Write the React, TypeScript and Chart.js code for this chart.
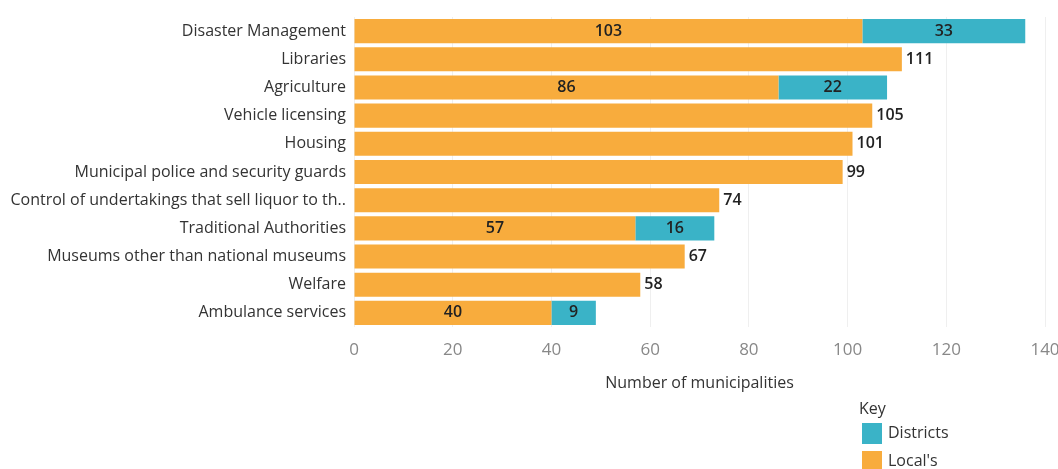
import React, { useEffect, useRef } from "react";
import { Chart, registerables } from "chart.js";

Chart.register(...registerables);

const categories = [
  "Disaster Management",
  "Libraries",
  "Agriculture",
  "Vehicle licensing",
  "Housing",
  "Municipal police and security guards",
  "Control of undertakings that sell liquor to th..",
  "Traditional Authorities",
  "Museums other than national museums",
  "Welfare",
  "Ambulance services",
];

const localsValues: (number | null)[] = [103, 111, 86, 105, 101, 99, 74, 57, 67, 58, 40];
const districtValues: (number | null)[] = [33, null, 22, null, null, null, null, 16, null, null, 9];

const xTicks = [0, 20, 40, 60, 80, 100, 120, 140];

const ORANGE = "#F8AC3D";
const TEAL = "#3AB3C7";
const FONT = "'Open Sans', 'Noto Sans', sans-serif";

const valueLabelPlugin = {
  id: "valueLabels",
  afterDatasetsDraw(chart: any) {
    const ctx = chart.ctx;
    ctx.save();
    ctx.font = `600 16px ${FONT}`;
    ctx.fillStyle = "#222";
    ctx.textBaseline = "middle";
    const localMeta = chart.getDatasetMeta(0);
    const distMeta = chart.getDatasetMeta(1);
    localMeta.data.forEach((el: any, i: number) => {
      const v = localsValues[i];
      if (v == null) return;
      const hasDist = districtValues[i] != null;
      if (hasDist) {
        ctx.textAlign = "center";
        ctx.fillText(String(v), (el.base + el.x) / 2, el.y);
      } else {
        ctx.textAlign = "left";
        ctx.fillText(String(v), el.x + 4, el.y);
      }
    });
    distMeta.data.forEach((el: any, i: number) => {
      const v = districtValues[i];
      if (v == null) return;
      ctx.textAlign = "center";
      ctx.fillText(String(v), (el.base + el.x) / 2, el.y);
    });
    ctx.restore();
  },
};

const keyLegendPlugin = {
  id: "keyLegend",
  afterDraw(chart: any) {
    const ctx = chart.ctx;
    ctx.save();
    ctx.textBaseline = "middle";
    ctx.textAlign = "left";
    ctx.fillStyle = "#333";
    ctx.font = `16px ${FONT}`;
    ctx.fillText("Key", 859, 409);
    const items = [chart.data.datasets[1], chart.data.datasets[0]];
    items.forEach((ds: any, i: number) => {
      const y = 423 + i * 28;
      ctx.fillStyle = ds.backgroundColor;
      ctx.fillRect(862, y, 20, 21);
      ctx.fillStyle = "#333";
      ctx.fillText(ds.label, 888, y + 10.5);
    });
    ctx.restore();
  },
};

export default function App() {
  const ref = useRef<HTMLCanvasElement | null>(null);
  useEffect(() => {
    if (!ref.current) return;
    const chart = new Chart(ref.current, {
      type: "bar",
      data: {
        labels: categories,
        datasets: [
          {
            label: "Local's",
            data: localsValues,
            backgroundColor: ORANGE,
            barPercentage: 0.92,
            categoryPercentage: 0.93,
          },
          {
            label: "Districts",
            data: districtValues,
            backgroundColor: TEAL,
            barPercentage: 0.92,
            categoryPercentage: 0.93,
          },
        ],
      },
      options: {
        indexAxis: "y",
        animation: false,
        responsive: false,
        maintainAspectRatio: false,
        layout: { padding: { top: 17, right: 13, left: 0, bottom: 0 } },
        plugins: {
          legend: { display: false },
          tooltip: { enabled: false },
        },
        scales: {
          x: {
            stacked: true,
            min: 0,
            max: 140,
            afterFit(scale: any) {
              scale.height = 142;
              scale.paddingLeft = 0;
              scale.paddingRight = 0;
            },
            afterBuildTicks(scale: any) {
              scale.ticks = xTicks.map((v) => ({ value: v }));
            },
            ticks: {
              padding: 13,
              color: "#888",
              font: { family: FONT, size: 17 },
            },
            grid: { color: "#efefef", drawTicks: false },
            border: { display: false },
            title: {
              display: true,
              text: "Number of municipalities",
              color: "#333",
              font: { family: FONT, size: 16 },
              padding: { top: 0, bottom: 76 },
            },
          },
          y: {
            stacked: true,
            afterFit(scale: any) {
              scale.width = 354;
              scale.paddingTop = 0;
              scale.paddingBottom = 0;
            },
            ticks: {
              padding: 8,
              color: "#333",
              font: { family: FONT, size: 16 },
            },
            grid: { display: false, drawTicks: false },
            border: { display: false },
          },
        },
      },
      plugins: [valueLabelPlugin, keyLegendPlugin],
    } as any);
    return () => chart.destroy();
  }, []);
  return (
    <div style={{ position: "absolute", left: 0, top: 0, width: 1058, height: 469, background: "#fff" }}>
      <canvas ref={ref} width={1058} height={469} style={{ width: 1058, height: 469 }} />
    </div>
  );
}
